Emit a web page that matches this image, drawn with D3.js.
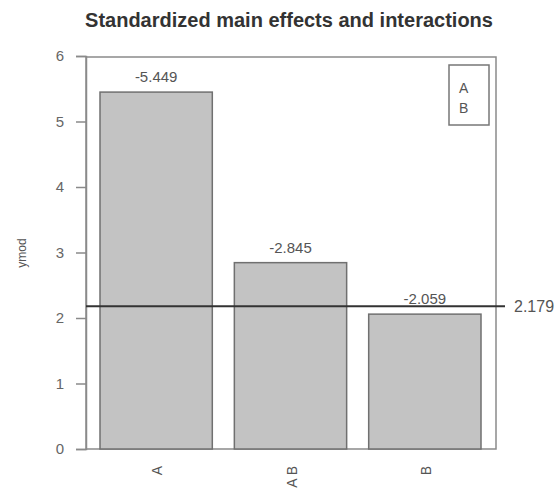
<!DOCTYPE html>
<html>
<head>
<meta charset="utf-8">
<script src="https://cdn.jsdelivr.net/npm/d3@7"></script>
<style>
  body { margin: 0; background: #fff; }
  text { font-family: "Liberation Sans", Arial, sans-serif; }
</style>
</head>
<body>
<div id="chart"></div>
<script>
// data
var categories = ["A", "A B", "B"];
var effects = [5.449, 2.845, 2.059];       // bar heights (absolute standardized effects)
var effectLabels = ["-5.449", "-2.845", "-2.059"];
var yTicks = [0, 1, 2, 3, 4, 5, 6];
var critical = [2.179];
var legendItems = ["A", "B"];

var W = 559, H = 496;
var box = { left: 86, right: 496, top: 57, bottom: 449 };

var svg = d3.select("#chart")
    .append("svg")
    .attr("width", W)
    .attr("height", H);

var y = d3.scaleLinear()
    .domain([0, 6])
    .range([box.bottom, box.top - 1]);

var x = d3.scaleBand()
    .domain(categories)
    .range([100, 481])
    .paddingInner(0.164)
    .paddingOuter(0);

// title
svg.append("text")
    .attr("x", 289)
    .attr("y", 27)
    .attr("text-anchor", "middle")
    .attr("font-size", 20)
    .attr("font-weight", "bold")
    .attr("fill", "#333")
    .text("Standardized main effects and interactions");

// plot box
svg.append("rect")
    .attr("x", box.left)
    .attr("y", box.top)
    .attr("width", box.right - box.left)
    .attr("height", box.bottom - box.top)
    .attr("fill", "none")
    .attr("stroke", "#8a8a8a")
    .attr("stroke-width", 1.5);

// bars
svg.selectAll("rect.bar")
    .data(effects)
    .enter()
    .append("rect")
    .attr("class", "bar")
    .attr("x", function (d, i) { return x(categories[i]); })
    .attr("y", function (d) { return y(d); })
    .attr("width", x.bandwidth())
    .attr("height", function (d) { return y(0) - y(d); })
    .attr("fill", "#c3c3c3")
    .attr("stroke", "#707070")
    .attr("stroke-width", 1.5);

// value labels
svg.selectAll("text.val")
    .data(effects)
    .enter()
    .append("text")
    .attr("class", "val")
    .attr("x", function (d, i) { return x(categories[i]) + x.bandwidth() / 2; })
    .attr("y", function (d) { return y(d) - 10; })
    .attr("text-anchor", "middle")
    .attr("font-size", 15)
    .attr("fill", "#555")
    .text(function (d, i) { return effectLabels[i]; });

// y axis
var yAxis = d3.axisLeft(y)
    .tickValues(yTicks)
    .tickSize(10)
    .tickPadding(12)
    .tickFormat(d3.format("d"));

var gy = svg.append("g")
    .attr("transform", "translate(" + box.left + ",0)")
    .call(yAxis);
gy.select(".domain").attr("stroke", "#8a8a8a").attr("stroke-width", 1.5);
gy.selectAll(".tick line").attr("stroke", "#8a8a8a").attr("stroke-width", 1.5);
gy.selectAll(".tick text")
    .attr("font-size", 15)
    .attr("font-family", "Liberation Sans, Arial, sans-serif")
    .attr("fill", "#666");

// y label
svg.append("text")
    .attr("transform", "translate(26,253) rotate(-90)")
    .attr("text-anchor", "middle")
    .attr("font-size", 12)
    .attr("fill", "#555")
    .text("ymod");

// x labels, perpendicular to the axis
svg.selectAll("text.xlab")
    .data(categories)
    .enter()
    .append("text")
    .attr("class", "xlab")
    .attr("transform", function (d) {
        return "translate(" + (x(d) + x.bandwidth() / 2 + 6) + "," + 466 + ") rotate(-90)";
    })
    .attr("text-anchor", "end")
    .attr("font-size", 14)
    .attr("fill", "#555")
    .text(function (d) { return d; });

// critical value line
svg.selectAll("line.crit")
    .data(critical)
    .enter()
    .append("line")
    .attr("class", "crit")
    .attr("x1", box.left)
    .attr("x2", 505)
    .attr("y1", function (d) { return y(d); })
    .attr("y2", function (d) { return y(d); })
    .attr("stroke", "#333")
    .attr("stroke-width", 2);

svg.selectAll("text.crit")
    .data(critical)
    .enter()
    .append("text")
    .attr("class", "crit")
    .attr("x", 514)
    .attr("y", function (d) { return y(d) + 6; })
    .attr("font-size", 16)
    .attr("fill", "#555")
    .text(function (d) { return d3.format(".3f")(d); });

// legend
svg.append("rect")
    .attr("x", 449)
    .attr("y", 65)
    .attr("width", 40)
    .attr("height", 60)
    .attr("fill", "#fff")
    .attr("stroke", "#777")
    .attr("stroke-width", 1.5);

svg.selectAll("text.leg")
    .data(legendItems)
    .enter()
    .append("text")
    .attr("class", "leg")
    .attr("x", 459)
    .attr("y", function (d, i) { return 93 + i * 20; })
    .attr("font-size", 14)
    .attr("fill", "#555")
    .text(function (d) { return d; });
</script>
</body>
</html>
